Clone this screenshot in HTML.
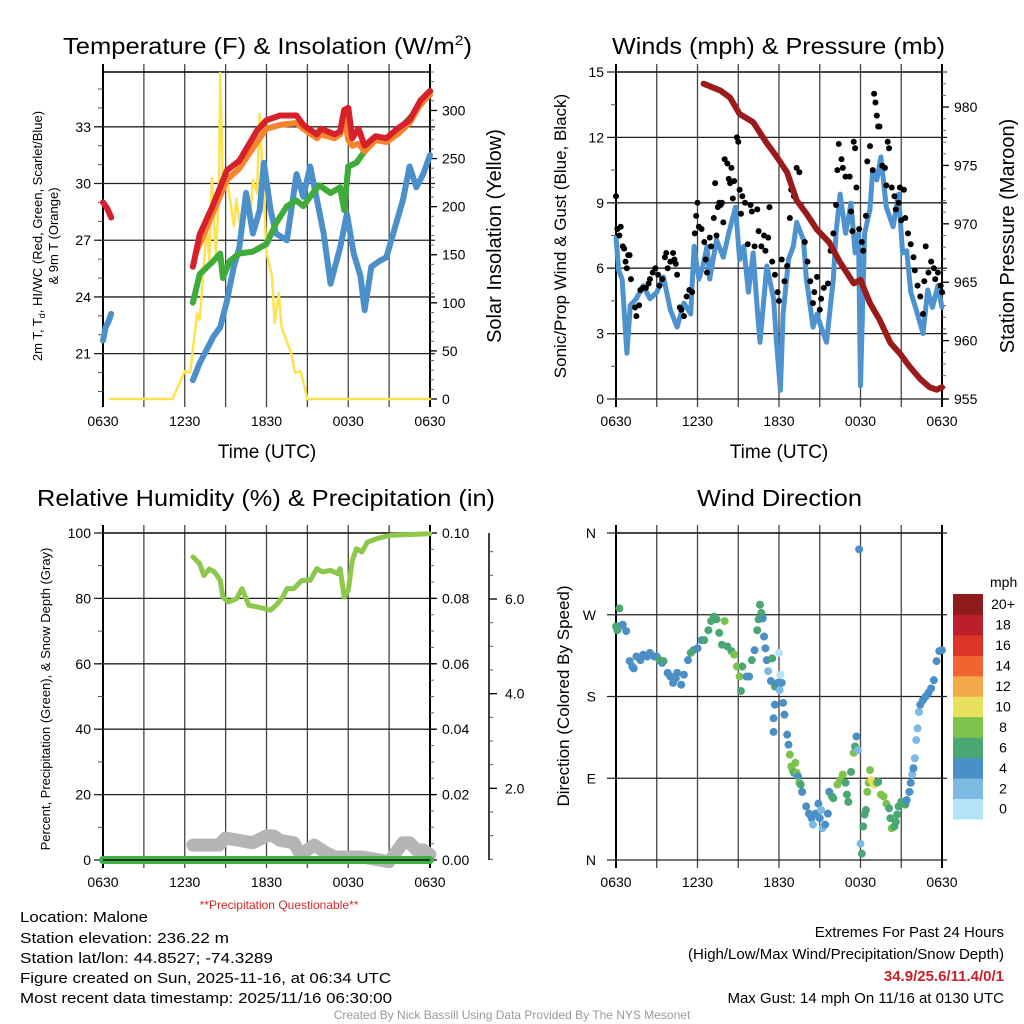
<!DOCTYPE html>
<html><head><meta charset="utf-8">
<style>
html,body{margin:0;padding:0;background:#fff;}
svg{display:block;font-family:"Liberation Sans",sans-serif;}
</style></head>
<body>
<svg id="chart" width="1024" height="1024" viewBox="0 0 1024 1024" xmlns="http://www.w3.org/2000/svg">
<rect x="0" y="0" width="1024" height="1024" fill="#fff"/>
<text x="63" y="54" font-size="23" textLength="409" lengthAdjust="spacingAndGlyphs">Temperature (F) &amp; Insolation (W/m<tspan font-size="14" dy="-9">2</tspan><tspan dy="9">)</tspan></text>
<text x="612" y="54" font-size="23" textLength="333" lengthAdjust="spacingAndGlyphs">Winds (mph) &amp; Pressure (mb)</text>
<text x="37" y="506" font-size="23" textLength="458" lengthAdjust="spacingAndGlyphs">Relative Humidity (%) &amp; Precipitation (in)</text>
<text x="697" y="506" font-size="23" textLength="165" lengthAdjust="spacingAndGlyphs">Wind Direction</text>
<text x="267" y="458" font-size="19" text-anchor="middle">Time (UTC)</text>
<text x="779" y="458" font-size="19" text-anchor="middle">Time (UTC)</text>
<text transform="translate(42,236) rotate(-90)" font-size="13" text-anchor="middle">2m T, T<tspan font-size="9" dy="3">d</tspan><tspan dy="-3">, HI/WC (Red, Green, Scarlet/Blue)</tspan></text>
<text transform="translate(58,236) rotate(-90)" font-size="13" text-anchor="middle">&amp; 9m T (Orange)</text>
<text transform="translate(501,236) rotate(-90)" font-size="20" text-anchor="middle">Solar Insolation (Yellow)</text>
<text transform="translate(566,236) rotate(-90)" font-size="17" text-anchor="middle">Sonic/Prop Wind &amp; Gust (Blue, Black)</text>
<text transform="translate(1014,236) rotate(-90)" font-size="20" text-anchor="middle">Station Pressure (Maroon)</text>
<text transform="translate(50,699) rotate(-90)" font-size="13" text-anchor="middle">Percent, Precipitation (Green), &amp; Snow Depth (Gray)</text>
<text transform="translate(569,696) rotate(-90)" font-size="17" text-anchor="middle">Direction (Colored By Speed)</text>
<text x="279" y="909" font-size="12" fill="#d62728" text-anchor="middle">**Precipitation Questionable**</text>
<g font-size="15">
<text x="20" y="922" textLength="128" lengthAdjust="spacingAndGlyphs">Location: Malone</text>
<text x="20" y="943" textLength="209" lengthAdjust="spacingAndGlyphs">Station elevation: 236.22 m</text>
<text x="20" y="963" textLength="253" lengthAdjust="spacingAndGlyphs">Station lat/lon: 44.8527; -74.3289</text>
<text x="20" y="983" textLength="371" lengthAdjust="spacingAndGlyphs">Figure created on Sun, 2025-11-16, at 06:34 UTC</text>
<text x="20" y="1003" textLength="372" lengthAdjust="spacingAndGlyphs">Most recent data timestamp: 2025/11/16 06:30:00</text>
</g>
<g font-size="15" text-anchor="end">
<text x="1004" y="937">Extremes For Past 24 Hours</text>
<text x="1004" y="959">(High/Low/Max Wind/Precipitation/Snow Depth)</text>
<text x="1004" y="981" fill="#c8202a" font-weight="bold">34.9/25.6/11.4/0/1</text>
<text x="1004" y="1003">Max Gust: 14 mph On 11/16 at 0130 UTC</text>
</g>
<text x="512" y="1019" font-size="12" fill="#999" text-anchor="middle">Created By Nick Bassill Using Data Provided By The NYS Mesonet</text>
<text x="990" y="587" font-size="14">mph</text>
</svg>
<script>
const timeLabels = ["0630","1230","1830","0030","0630"];
const tRedEarly = [0,0.3,0.6];
const vRedEarly = [29.0,28.7,28.2];
const tBlueEarly = [0,0.2,0.4,0.6];
const vBlueEarly = [21.7,22.4,22.7,23.1];
const tRed = [6.6,7.1,8.1,9.1,10,11.3,12,13,14.2,14.7,15.7,16,17,17.4,17.7,18,18.3,18.75,19.2,20,20.8,21.6,22.5,23.3,24];
const vRed = [25.6,27.3,28.9,30.7,31.2,32.8,33.35,33.6,33.6,33.1,32.6,32.9,32.6,32.75,33.9,34.0,32.4,32.9,32.0,32.5,32.4,32.9,33.35,34.4,34.9];
const tOrange = [6.8,8.1,9.1,10,11.3,12,13,14.2,14.7,15.7,16,17,17.4,17.7,18,18.3,18.75,19.2,20,20.8,21.6,22.5,23.3,24];
const vOrange = [26.3,28.5,30.2,30.8,32.2,32.9,33.1,33.2,32.9,32.4,32.6,32.4,32.6,33.6,32.3,32.0,32.1,31.7,32.3,32.2,32.6,33.2,34.2,34.7];
const tGreen = [6.6,7.1,8.1,8.6,8.8,9.3,10,11,11.5,12,12.7,13.5,14.2,14.7,15.4,15.9,16.7,17.4,17.7,18,18.6,19.3,20,20.8,21.8,22.8,24];
const vGreen = [23.7,25.2,25.9,26.3,25.0,25.9,26.3,26.4,26.6,26.8,27.9,28.8,29.1,28.8,29.5,29.9,29.5,29.8,28.6,30.9,31.1,31.8,32.3,32.2,32.9,33.7,34.8];
const tBlue = [6.6,7.1,7.6,8.1,8.6,9.1,9.6,10,10.5,11,11.5,11.8,12.3,12.7,13.5,14.2,14.7,15.2,15.6,16.2,16.7,17.4,17.9,18.4,18.9,19.2,19.7,20.3,20.8,21.3,22,22.5,23,23.5,24];
const vBlue = [19.6,20.5,21.2,21.9,22.4,23.8,25.6,26.6,29.5,27.35,28.6,31.1,28.6,27.35,27.0,30.5,29.3,30.9,29.5,27.35,24.7,26.6,28.4,26.3,25.1,23.3,25.6,25.9,26.1,27.35,29.1,30.9,29.8,30.5,31.5];
const tSolar = [0.5,5.1,6,6.4,6.9,7.1,7.35,7.6,7.8,8,8.3,8.5,8.6,8.8,9.1,9.6,9.8,10,10.5,10.8,11,11.3,11.5,11.8,12,12.4,12.6,12.9,13.1,13.8,14.1,14.5,15,24];
const vSolar = [0,0,29,27,89,82,128,180,145,230,148,213,339,220,230,180,208,184,211,187,228,214,296,208,152,128,79,110,75,48,27,29,0,0];
const tWind = [0,0.2,0.45,0.8,1.05,1.5,2,2.5,3,3.5,4,4.5,5,5.5,5.75,6.1,6.4,6.7,6.9,7.4,7.9,8.3,8.8,9.1,9.4,9.75,10.1,10.4,10.6,11.1,11.6,11.8,12.1,12.3,12.7,13.05,13.3,13.8,14,14.5,14.8,15.1,15.5,16,16.2,16.5,16.9,17.3,17.6,17.85,18,18.3,18.7,18.9,19.2,19.5,19.9,20.4,20.8,21.1,21.4,21.7,22.1,22.6,22.95,23.3,23.7,24];
const vWind = [7.4,5.9,5.5,2.1,4.3,4.6,5.2,4.6,4.9,5.6,4.1,3.3,4.4,3.9,7.0,5.5,6.1,7.0,5.5,7.3,6.5,7.6,8.8,6.4,7.0,4.9,6.7,4.1,2.6,6.1,4.6,2.7,0.4,3.9,6.4,7.0,8.1,7.3,5.6,3.3,3.9,3.3,2.6,5.5,7.6,9.4,7.6,8.98,6.7,7.6,0.6,7.6,8.7,10.5,10.05,11.1,8.8,7.9,9.4,6.7,6.8,4.9,4.1,3.0,5.0,4.2,5.2,4.2];
const tGust = [0,0.1,0.25,0.35,0.5,0.6,0.7,0.8,0.9,1.0,1.1,1.4,1.5,1.7,1.8,2.0,2.2,2.4,2.5,2.7,2.9,3.1,3.2,3.4,3.6,3.7,3.8,4.0,4.2,4.3,4.4,4.5,4.7,4.8,5.0,5.2,5.4,5.6,5.8,5.9,6.0,6.1,6.3,6.5,6.6,6.7,6.9,7.0,7.2,7.3,7.4,7.5,7.6,7.7,7.8,7.9,8.0,8.2,8.3,8.4,8.5,8.6,8.7,8.9,9.0,9.1,9.2,9.3,9.5,9.7,9.9,10.0,10.2,10.4,10.5,10.7,10.9,11.0,11.2,11.3,11.5,11.7,11.9,12.0,12.2,12.4,12.6,12.8,12.9,13.1,13.3,13.5,13.6,13.9,14.1,14.3,14.5,14.6,14.8,15.0,15.1,15.3,15.6,15.8,16.0,16.2,16.3,16.4,16.6,16.7,16.9,17.2,17.3,17.4,17.5,17.6,17.7,17.9,18.1,18.2,18.4,18.5,18.7,18.9,19.0,19.1,19.2,19.3,19.4,19.6,19.8,19.9,20.0,20.1,20.3,20.5,20.6,20.8,20.9,21.0,21.2,21.3,21.5,21.7,21.9,22.0,22.2,22.4,22.6,22.7,22.8,23.0,23.2,23.4,23.5,23.7,23.9,24.0];
const vGust = [9.3,7.8,7.5,7.9,7.0,6.9,6.3,6.0,6.6,6.6,5.5,4.2,3.8,4.3,5.0,5.1,5.1,5.3,5.5,5.8,6.0,5.7,5.2,5.5,6.5,6.7,6.0,6.3,6.7,6.4,6.2,5.7,4.2,4.1,3.8,4.7,5.0,4.9,7.6,8.4,9.0,7.9,7.8,7.2,6.4,5.8,7.4,7.0,8.3,9.9,7.5,8.8,9.0,8.9,9.0,8.1,11.0,10.8,10.1,9.9,10.6,9.2,10.0,12.0,11.8,9.6,8.5,9.3,9.0,7.1,8.9,8.6,7.0,8.7,7.7,7.0,7.5,6.8,7.4,8.8,6.3,5.7,4.9,4.5,6.4,5.4,6.1,8.3,9.6,9.3,10.6,10.4,8.9,7.2,6.3,5.4,4.4,4.9,5.6,4.1,4.6,5.1,5.3,6.8,7.6,8.9,10.5,11.7,11.0,10.6,10.2,10.2,8.6,7.7,11.8,11.5,9.7,7.8,7.2,6.8,8.4,10.9,11.6,10.5,14.0,13.6,13.0,12.5,12.5,10.7,10.6,9.8,11.8,11.5,9.7,9.3,8.7,9.0,9.7,8.2,9.6,8.3,7.6,7.1,6.5,5.9,5.2,4.7,3.9,5.4,7.0,5.8,6.3,6.0,5.5,5.8,5.2,4.9];
const tPres = [6.45,7.7,8.4,9.1,10.1,11.1,11.8,12.6,13.3,14,14.8,15.7,16.5,17.5,18,18.7,19.4,20.2,20.9,21.6,22.4,23.1,23.6,24];
const vPres = [982.0,981.4,980.8,979.4,978.7,976.9,975.8,974.4,972.0,970.9,969.5,968.4,966.7,964.9,965.2,963.2,961.8,959.8,958.9,957.8,956.7,956.0,955.8,956.0];
const tRH = [6.6,7.1,7.4,7.8,8.2,8.6,8.8,9.2,9.8,10.2,10.7,11.3,11.8,12.3,12.7,13.2,13.5,14,14.6,15.2,15.7,16.1,16.7,17.2,17.4,17.7,18,18.3,18.6,19,19.4,20.1,21.1,24];
const vRH = [92.7,90.6,87.0,89.0,88.0,85.5,80.4,78.9,79.9,83.0,77.9,77.4,76.9,76.4,77.9,80.4,83.0,83.0,85.5,85.5,89.1,88.1,88.6,87.6,89.1,80.4,82.5,91.6,95.2,94.2,97.2,98.3,99.3,99.8];
const tSnow = [6.6,7.5,8.5,9.0,10,11,12,12.5,13,14,14.5,15.5,16.3,17,18,19,20,21,22,22.5,23,23.5,24];
const vSnow = [0.8,0.8,0.8,0.95,0.9,0.85,1.0,1.0,0.9,0.85,0.6,0.8,0.65,0.55,0.55,0.55,0.5,0.45,0.85,0.85,0.7,0.7,0.6];
const tPrecip = [0,6,12,18,24];
const vPrecip = [0,0,0,0,0];
const tDir = [0,0.1,0.25,0.35,0.5,0.75,1,1.2,1.3,1.5,1.8,2,2.3,2.5,2.8,3,3.2,3.4,3.5,3.8,4,4.2,4.4,4.5,4.8,5,5.3,5.5,5.7,6,6.3,6.5,6.8,7,7.2,7.4,7.6,7.8,8,8.2,8.5,8.7,8.9,9.1,9.2,9.3,9.6,9.8,10,10.2,10.4,10.5,10.6,10.7,10.8,10.9,11,11.1,11.2,11.4,11.5,11.7,11.9,12,12.1,12.05,12.2,11.7,11.6,11.6,12.3,12.4,12.6,12.7,12.8,12.9,13,13.1,13.2,13.3,13.4,13.5,13.6,13.7,14,14.2,14.4,14.5,14.7,14.9,15,15.1,15.2,15.4,15.6,15.7,15.9,16,16.3,16.5,16.7,16.9,17,17.1,17.3,17.5,17.6,17.7,17.8,17.9,18,18.1,18.2,18.3,18.4,18.5,18.6,18.7,18.8,19,19.2,19.3,19.5,19.7,19.9,20.1,20.2,20.3,20.5,20.6,20.7,20.8,21,21.2,21.3,21.4,21.6,21.7,21.8,21.9,22,22.1,22.2,22.3,22.4,22.6,22.8,23,23.2,23.4,23.6,23.8,24];
const vDir = [257,253,277,258,259,252,219,213,211,224,220,226,224,228,224,224,220,217,219,206,202,195,200,206,193,204,220,228,231,233,242,242,253,263,268,265,250,237,263,235,230,226,213,202,186,213,202,202,220,231,253,265,281,272,266,246,233,220,208,197,222,191,195,228,204,187,195,171,156,141,173,160,138,127,116,103,99,96,107,96,92,85,83,75,59,51,46,39,51,62,46,55,35,39,51,75,70,68,83,88,94,85,72,64,97,118,125,136,121,342,18,7,37,50,55,75,85,99,88,83,85,86,72,70,62,57,46,35,37,42,50,59,64,62,61,66,75,85,94,101,112,132,145,163,171,176,180,184,189,198,219,230,231];
const vDirSpd = [6,6,6,6,4,4,4,4,4,4,4,4,4,4,4,4,6,4,6,4,4,4,4,4,4,4,4,6,6,4,4,6,6,6,6,6,6,6,8,6,6,8,8,8,6,6,4,4,6,4,6,6,6,6,4,4,4,4,2,4,6,6,4,1,1,2,4,4,4,4,4,4,4,4,8,8,8,6,8,8,4,8,6,4,4,4,4,2,4,4,4,2,2,4,4,4,6,6,8,8,8,6,6,6,6,8,6,4,2,4,2,6,6,6,6,8,8,8,10,10,8,6,8,8,8,6,6,8,6,6,6,6,6,6,6,4,4,4,2,4,2,2,2,2,4,4,4,4,4,4,4,4,4];
const speedBins = ["0","2","4","6","8","10","12","14","16","18","20+"];
const speedColors = ["#b3e3f7","#7cb9e3","#4a8fc6","#4aa672","#7dc24b","#e7e15d","#f6a94a","#ef6430","#dc3528","#bd1f2a","#8f1a1c"];

const svg = document.getElementById('chart');
const NS = 'http://www.w3.org/2000/svg';
function mk(tag, attrs, parent) {
  const e = document.createElementNS(NS, tag);
  for (const k in attrs) e.setAttribute(k, attrs[k]);
  (parent || svg).appendChild(e);
  return e;
}
function lin(d0, d1, r0, r1) { return v => r0 + (v - d0) / (d1 - d0) * (r1 - r0); }
function line(parent, x1, y1, x2, y2, stroke, w) {
  return mk('line', {x1, y1, x2, y2, stroke, 'stroke-width': w}, parent);
}
function txt(parent, x, y, s, size, anchor) {
  const t = mk('text', {x, y, 'font-size': size, 'text-anchor': anchor || 'middle'}, parent);
  t.textContent = s;
  return t;
}
function polyline(parent, ts, vs, xf, yf, color, w) {
  const pts = ts.map((t, i) => xf(t).toFixed(1) + ',' + yf(vs[i]).toFixed(1)).join(' ');
  return mk('polyline', {points: pts, fill: 'none', stroke: color, 'stroke-width': w, 'stroke-linejoin': 'round', 'stroke-linecap': 'round'}, parent);
}
function frame(name, x0, x1, y0, y1, labels) {
  const g = mk('g', {});
  
  
  const xf = lin(0, 24, x0, x1);
  for (let h = 0; h <= 24; h += 3) {
    const x = xf(h);
    const vl = line(g, x, y0 - 8, x, y1 + 8, (h === 0 || h === 24) ? '#000' : '#444', (h === 0 || h === 24) ? 2 : 1.3);
    
    
  }
  if (labels) {
    labels.forEach((s, i) => {
      const t = txt(g, xf(i * 6), y1 + 27, s, 14);
      
      
    });
  }
  const top = line(g, x0, y0, x1, y0, '#000', 1.5);
  
  
  return xf;
}
function hGrid(g, name, x0, x1, y, ext) {
  const l = line(g, x0 - ext, y, x1 + 5, y, '#222', 1.3);
  
  
}
function leftAxis(name, x0, x1, yf, majors, minors, fmt, grid) {
  const g = mk('g', {});
  
  
  minors.forEach(v => { line(g, x0 - 5, yf(v), x0, yf(v), '#555', 1); });
  majors.forEach(v => {
    if (grid) hGrid(g, name, x0, x1, yf(v), 9); else line(g, x0 - 9, yf(v), x0, yf(v), '#000', 1.3);
    const t = txt(g, x0 - 12, yf(v) + 5, fmt(v), 14, 'end');
    
    
  });
}
function rightAxis(name, x1, yf, majors, minors, fmt) {
  const g = mk('g', {});
  
  
  minors.forEach(v => { line(g, x1, yf(v), x1 + 4, yf(v), '#666', 1); });
  majors.forEach(v => {
    line(g, x1, yf(v), x1 + 7, yf(v), '#000', 1.3);
    const t = txt(g, x1 + 12, yf(v) + 5, fmt(v), 14, 'start');
    
    
  });
}
function range(a, b, s) { const r = []; for (let v = a; v <= b + 1e-9; v += s) r.push(+v.toFixed(4)); return r; }

const x1f = frame('temperature-panel', 103, 430, 72, 399, timeLabels);
const yT = lin(18.6, 35.9, 399, 72);
const ySol = lin(0, 340, 399, 72);
leftAxis('temperature-panel', 103, 430, yT, [21,24,27,30,33], range(19,35,1), v => String(v), true);
rightAxis('solar', 430, ySol, range(0,300,50), range(0,340,10), v => String(v));
const g1 = mk('g', {});


let s;
s = polyline(g1, tSolar, vSolar, x1f, ySol, '#fde24f', 2.5);


s = polyline(g1, tBlue, vBlue, x1f, yT, '#4b8fcb', 6);


s = polyline(g1, tBlueEarly, vBlueEarly, x1f, yT, '#4b8fcb', 6);


s = polyline(g1, tGreen, vGreen, x1f, yT, '#3eab3a', 6);


s = polyline(g1, tOrange, vOrange, x1f, yT, '#f5842c', 6);


s = polyline(g1, tRed, vRed, x1f, yT, '#d6202a', 6);


s = polyline(g1, tRedEarly, vRedEarly, x1f, yT, '#d6202a', 6);



const x2f = frame('winds-panel', 616, 942, 72, 399, timeLabels);
const yW = lin(0, 15, 399, 72);
const yP = lin(955, 983, 399, 72);
leftAxis('winds-panel', 616, 942, yW, range(0,15,3), range(0,15,1.5), v => String(v), true);
rightAxis('pressure', 942, yP, range(955,980,5), range(955,983,1), v => String(v));
const g2 = mk('g', {});


s = polyline(g2, tWind, vWind, x2f, yW, '#4e93cf', 5);


tGust.forEach((t, i) => {
  const c = mk('circle', {cx: x2f(t), cy: yW(vGust[i]), r: 3, fill: '#000'}, g2);
  
  
});
s = polyline(g2, tPres, vPres, x2f, yP, '#9b1b1b', 6);



const x3f = frame('humidity-panel', 103, 430, 533, 860, timeLabels);
const yRH = lin(0, 100, 860, 533);
const yPr = lin(0, 0.1, 860, 533);
const ySn = lin(0, 6, 883, 599);
leftAxis('humidity-panel', 103, 430, yRH, range(0,100,20), range(0,100,10), v => String(v), true);
rightAxis('precipitation', 430, yPr, range(0,0.1,0.02), range(0,0.1,0.005), v => v.toFixed(2));
const gs = mk('g', {});


line(gs, 489, 533, 489, 860, '#000', 1.5);
range(0.5, 7, 0.5).forEach(v => { if (ySn(v) >= 533 && ySn(v) <= 860) line(gs, 489, ySn(v), 493, ySn(v), '#555', 1); });
[2, 4, 6].forEach(v => {
  line(gs, 489, ySn(v), 497, ySn(v), '#000', 1.3);
  const t = txt(gs, 505, ySn(v) + 5, v.toFixed(1), 14, 'start');
  
  
});
const g3 = mk('g', {});


s = polyline(g3, tSnow, vSnow, x3f, ySn, '#b5b5b5', 13);


s = polyline(g3, tPrecip, vPrecip, x3f, yPr, '#3eae45', 8);


line(g3, 103, 860, 430, 860, '#111', 1.5);
s = polyline(g3, tRH, vRH, x3f, yRH, '#8cc84b', 5);



const x4f = frame('direction-panel', 616, 942, 533, 860, timeLabels);
const yD = lin(0, 360, 860, 533);
const g4a = mk('g', {});


[[360,'N'],[270,'W'],[180,'S'],[90,'E'],[0,'N']].forEach(([d, l]) => {
  hGrid(g4a, 'direction-panel', 616, 942, yD(d), 9);
  const t = txt(g4a, 596, yD(d) + 5, l, 14, 'end');
  
  
});
const g4 = mk('g', {});


tDir.forEach((t, i) => {
  const bin = Math.min(10, Math.floor(vDirSpd[i] / 2));
  const c = mk('circle', {cx: x4f(t), cy: yD(vDir[i]), r: 4, fill: speedColors[bin]}, g4);
  
  
});
const cb = mk('g', {});


const cbTop = 594, cbH = 20.45;
speedBins.forEach((lab, i) => {
  const j = speedBins.length - 1 - i;
  const r = mk('rect', {x: 953, y: cbTop + j * cbH, width: 30, height: cbH + 0.5, fill: speedColors[i]}, cb);
  
  
  const t = txt(cb, 1003, cbTop + j * cbH + cbH / 2 + 5, lab, 14, 'middle');
  
  
});
</script>
</body></html>
